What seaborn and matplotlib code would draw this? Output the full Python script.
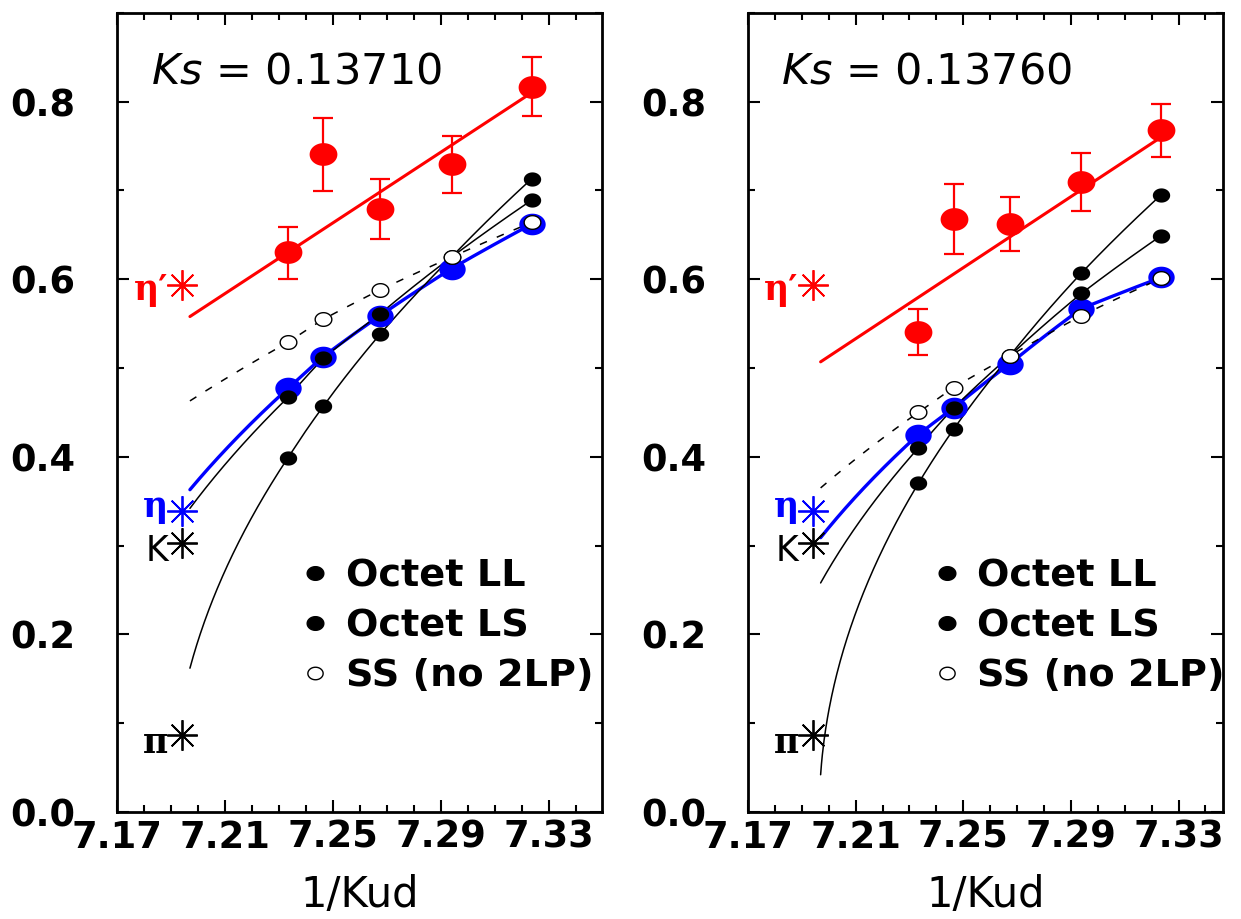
import numpy as np
import matplotlib
matplotlib.use("Agg")
import matplotlib.pyplot as plt
import seaborn as sns
from matplotlib.path import Path
from matplotlib.lines import Line2D

# ---------------- data ----------------
inv_kud = [7.2333, 7.2464, 7.2674, 7.2939, 7.3235]   # 1/Kud of the simulation points
x_fit_start = 7.197                                   # where the extrapolation curves begin
x_phys = 7.194                                        # position of experimental asterisks

panel_titles = ["0.13710", "0.13760"]

# Ks = 0.13710
eta1_L = [0.631, 0.741, 0.679, 0.730, 0.817]
eta1_L_hi = [0.659, 0.782, 0.713, 0.761, 0.850]
eta1_L_lo = [0.600, 0.699, 0.645, 0.697, 0.784]
eta1_L_fit = [0.558, 0.810]
ll_L = [0.399, 0.457, 0.538, 0.625, 0.713]
ls_L = [0.467, 0.511, 0.561, 0.625, 0.689]
ss_L = [0.529, 0.555, 0.588, 0.625, 0.664]
eta_L = [0.477, 0.513, 0.559, 0.612, 0.662]
start_L = {"ll": 0.162, "ls": 0.342, "ss": 0.463, "eta": 0.363}

# Ks = 0.13760
eta1_R = [0.541, 0.668, 0.662, 0.710, 0.768]
eta1_R_hi = [0.567, 0.707, 0.693, 0.742, 0.797]
eta1_R_lo = [0.515, 0.628, 0.632, 0.677, 0.738]
eta1_R_fit = [0.507, 0.760]
ll_R = [0.370, 0.431, 0.514, 0.607, 0.695]
ls_R = [0.410, 0.455, 0.514, 0.584, 0.649]
ss_R = [0.450, 0.478, 0.514, 0.559, 0.601]
eta_R = [0.425, 0.455, 0.505, 0.567, 0.602]
start_R = {"ll": 0.042, "ls": 0.258, "ss": 0.365, "eta": 0.309}

# experimental values (asterisks)
phys_labels = ["η′", "η", "K", "π"]
phys_values = [0.593, 0.339, 0.303, 0.087]
phys_colors = ["#ff0000", "#0000ff", "black", "black"]
phys_label_dy = [-3, 3, -6, -6]   # label offsets (points)

x_ticks = [7.17, 7.21, 7.25, 7.29, 7.33]
x_tick_labels = ["7.17", "7.21", "7.25", "7.29", "7.33"]
y_ticks = [0.0, 0.2, 0.4, 0.6, 0.8]
y_tick_labels = ["0.0", "0.2", "0.4", "0.6", "0.8"]
legend_labels = ["Octet LL", "Octet LS", "SS (no 2LP)"]

# ---------------- style ----------------
sns.set_theme(style="ticks")
plt.rcParams["font.family"] = ["DejaVu Sans"]
plt.rcParams["mathtext.fontset"] = "dejavusans"
for k in ["text.color", "axes.labelcolor", "xtick.color", "ytick.color", "axes.edgecolor"]:
    plt.rcParams[k] = "black"

RED = "#ff0000"
BLUE = "#0000ff"

# slightly wide ellipse marker (the reference is horizontally stretched)
t = np.linspace(0, 2 * np.pi, 64)
ELL = Path(np.column_stack([1.22 * np.cos(t), np.sin(t)]), closed=True)


def sqrt_curve(x0, m0, xs, ms):
    xx = np.concatenate([[x0], np.asarray(xs)])
    mm2 = np.concatenate([[m0], np.asarray(ms)]) ** 2
    grid = np.linspace(x0, xx[-1], 400)
    return grid, np.sqrt(np.interp(grid, xx, mm2))


fig = plt.figure(figsize=(12.41, 9.19), dpi=100)
ax_L = fig.add_axes([0.0943, 0.1164, 0.3908, 0.8696])
ax_R = fig.add_axes([0.6027, 0.1164, 0.3830, 0.8696])

panels = [
    (ax_L, panel_titles[0], eta1_L, eta1_L_hi, eta1_L_lo, eta1_L_fit, ll_L, ls_L, ss_L, eta_L, start_L, 7.3496, 0.377),
    (ax_R, panel_titles[1], eta1_R, eta1_R_hi, eta1_R_lo, eta1_R_fit, ll_R, ls_R, ss_R, eta_R, start_R, 7.3466, 0.386),
]

x = np.array(inv_kud)
for (ax, title, e1, e1hi, e1lo, e1fit, ll, ls, ss, eta, st, xmax, legx) in panels:
    e1 = np.array(e1)
    # red eta' : linear fit line, error bars, points
    sns.lineplot(x=[x_fit_start, x[-1]], y=e1fit, ax=ax, color=RED, lw=2.2,
                 sort=False, estimator=None, zorder=2)
    ax.errorbar(x, e1, yerr=[e1 - np.array(e1lo), np.array(e1hi) - e1], fmt="none",
                ecolor=RED, elinewidth=1.6, capsize=7, capthick=1.6, zorder=3)
    sns.scatterplot(x=x, y=e1, ax=ax, marker=ELL, s=20 ** 2, color=RED,
                    edgecolor=RED, linewidth=0, zorder=4)

    # blue eta
    gx, gy = sqrt_curve(x_fit_start, st["eta"], x, eta)
    sns.lineplot(x=gx, y=gy, ax=ax, color=BLUE, lw=2.4, sort=False, estimator=None, zorder=2.2)
    sns.scatterplot(x=x, y=eta, ax=ax, marker=ELL, s=19 ** 2, color=BLUE,
                    edgecolor=BLUE, linewidth=0, zorder=3.1)

    # black octet curves
    for series, key in [(ll, "ll"), (ls, "ls")]:
        gx, gy = sqrt_curve(x_fit_start, st[key], x, series)
        sns.lineplot(x=gx, y=gy, ax=ax, color="black", lw=1.1, sort=False,
                     estimator=None, zorder=3)
        sns.scatterplot(x=x, y=series, ax=ax, marker=ELL, s=12.5 ** 2, color="black",
                        edgecolor="black", linewidth=0, zorder=5)

    # SS (no 2LP) dashed
    gx, gy = sqrt_curve(x_fit_start, st["ss"], x, ss)
    ax.plot(gx, gy, color="black", lw=1.1, linestyle=(0, (5, 7)), zorder=3)
    sns.scatterplot(x=x, y=ss, ax=ax, marker=ELL, s=12 ** 2, color="white",
                    edgecolor="black", linewidth=1.0, zorder=6)

    # experimental asterisks + labels
    for lbl, val, col, dy in zip(phys_labels, phys_values, phys_colors, phys_label_dy):
        ax.plot([x_phys], [val], ls="none", marker=(8, 2, 0), ms=22, mew=1.3,
                color=col, zorder=4)
        if lbl == "K":
            fam, wt = "DejaVu Sans", "normal"
        else:
            fam, wt = "DejaVu Serif", "bold"
        ax.annotate(lbl, xy=(x_phys, val), xytext=(-10, dy), textcoords="offset points",
                    ha="right", va="center", color=col, fontsize=25,
                    family=fam, fontweight=wt, zorder=5)

    # title text
    ax.text(0.07, 0.912, r"$Ks$ = " + title, transform=ax.transAxes,
            fontsize=31, va="baseline", ha="left", color="black")

    # legend
    handles = [
        Line2D([0], [0], ls="none", marker=ELL, ms=12, mfc="black", mec="black"),
        Line2D([0], [0], ls="none", marker=ELL, ms=12, mfc="black", mec="black"),
        Line2D([0], [0], ls="none", marker=ELL, ms=11, mfc="white", mec="black", mew=1.0),
    ]
    ax.legend(handles, legend_labels, loc="upper left", bbox_to_anchor=(legx, 0.317),
              frameon=False, prop={"size": 27.5, "weight": "bold"}, handlelength=0.8,
              handletextpad=0.4, labelspacing=0.36, borderpad=0, borderaxespad=0)

    # axes
    ax.set_xlim(7.17, xmax)
    ax.set_ylim(0.0, 0.9)
    ax.set_xticks(x_ticks, labels=x_tick_labels, fontsize=26.5, fontweight="bold")
    ax.set_yticks(y_ticks, labels=y_tick_labels, fontsize=26.5, fontweight="bold")
    ax.set_xticks(np.arange(7.17, xmax, 0.01), minor=True)
    ax.set_yticks(np.arange(0.0, 0.901, 0.1), minor=True)
    ax.tick_params(which="both", direction="in", top=True, right=True, width=1.5,
                   color="black", labelcolor="black")
    ax.tick_params(which="major", length=8.5)
    ax.tick_params(which="minor", length=5)
    ax.tick_params(axis="x", which="major", pad=5)
    ax.tick_params(axis="y", which="major", pad=30)
    ax.set_xlabel("1/Kud", fontsize=30, labelpad=13, color="black")
    ax.set_ylabel("")
    for sp in ax.spines.values():
        sp.set_linewidth(2)
        sp.set_color("black")
    ax.set_facecolor("white")

fig.savefig("out.png", dpi=100, facecolor="white")
